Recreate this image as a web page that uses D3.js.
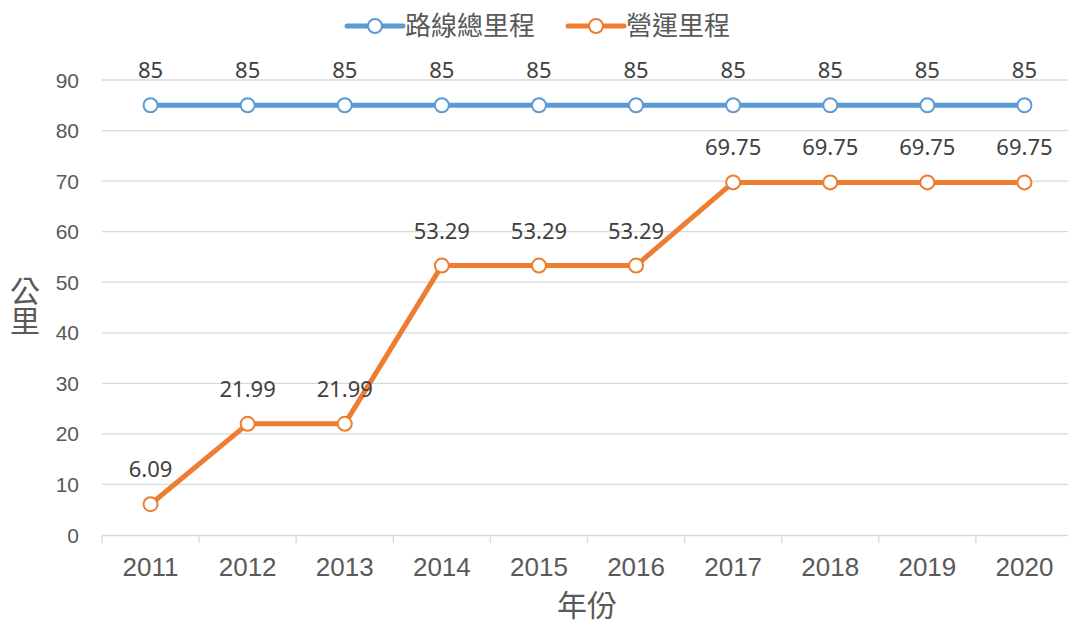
<!DOCTYPE html>
<html>
<head>
<meta charset="utf-8">
<script src="https://cdn.jsdelivr.net/npm/d3@7"></script>
<style>
  body { margin: 0; background: #fff; }
  text { font-family: "Liberation Sans", Arial, sans-serif; }
  .cjk { font-family: "Noto Sans CJK TC", "Noto Sans CJK SC", sans-serif; }
</style>
</head>
<body>
<script>
const width = 1068;
const height = 626;

const years = ["2011", "2012", "2013", "2014", "2015", "2016", "2017", "2018", "2019", "2020"];
const totalKm = [85, 85, 85, 85, 85, 85, 85, 85, 85, 85];
const operKm = [6.09, 21.99, 21.99, 53.29, 53.29, 53.29, 69.75, 69.75, 69.75, 69.75];
const seriesNames = ["路線總里程", "營運里程"];
const colors = ["#5B9BD5", "#ED7D31"];
const yTicks = [0, 10, 20, 30, 40, 50, 60, 70, 80, 90];

const margin = { left: 102, right: -5, top: 80, bottom: 91 };

const svg = d3.select("body")
  .append("svg")
  .attr("width", width)
  .attr("height", height);

var x = d3.scaleBand()
  .domain(years)
  .range([margin.left, width - margin.right]);

var y = d3.scaleLinear()
  .domain([0, 90])
  .range([height - margin.bottom, margin.top]);

// gridlines
svg.append("g")
  .selectAll("line")
  .data(yTicks.slice(1))
  .enter().append("line")
  .attr("x1", margin.left)
  .attr("x2", width)
  .attr("y1", d => y(d))
  .attr("y2", d => y(d))
  .style("stroke", "#d9d9d9")
  .style("stroke-width", 1.3);

// y tick labels
svg.append("g")
  .selectAll("text")
  .data(yTicks)
  .enter().append("text")
  .attr("x", 79)
  .attr("y", d => y(d))
  .attr("dy", "0.36em")
  .attr("text-anchor", "end")
  .style("font-size", "21px")
  .style("fill", "#595959")
  .text(d => d);

// x axis
var xAxis = d3.axisBottom(x).tickSize(0).tickPadding(23);
var gx = svg.append("g")
  .attr("transform", "translate(0," + y(0) + ")")
  .call(xAxis);
gx.select(".domain").style("stroke", "#d9d9d9").style("stroke-width", 1.3);
gx.selectAll("text")
  .style("font-size", "26px")
  .style("fill", "#595959")
  .style("font-family", "Liberation Sans, Arial, sans-serif");

// tick marks between categories
svg.append("g")
  .selectAll("line")
  .data(years)
  .enter().append("line")
  .attr("x1", d => x(d))
  .attr("x2", d => x(d))
  .attr("y1", y(0))
  .attr("y2", y(0) + 8)
  .style("stroke", "#d9d9d9")
  .style("stroke-width", 1.3);

var line = d3.line()
  .x((d, i) => x(years[i]) + x.bandwidth() / 2)
  .y(d => y(d));

[totalKm, operKm].forEach(function(vals, s) {
  svg.append("path")
    .datum(vals)
    .attr("d", line)
    .style("fill", "none")
    .style("stroke", colors[s])
    .style("stroke-width", 5)
    .style("stroke-linejoin", "round");

  svg.append("g")
    .selectAll("circle")
    .data(vals)
    .enter().append("circle")
    .attr("cx", (d, i) => x(years[i]) + x.bandwidth() / 2)
    .attr("cy", d => y(d))
    .attr("r", 7)
    .style("fill", "#fff")
    .style("stroke", colors[s])
    .style("stroke-width", 2);

  svg.append("g")
    .selectAll("text")
    .data(vals)
    .enter().append("text")
    .attr("x", (d, i) => x(years[i]) + x.bandwidth() / 2)
    .attr("y", d => y(d) - 27)
    .attr("text-anchor", "middle")
    .style("font-family", "'Noto Sans', sans-serif")
    .style("font-size", "22px")
    .style("fill", "#404040")
    .text(d => d);
});

// legend
var legendX = [347, 568];
seriesNames.forEach(function(name, s) {
  var g = svg.append("g").attr("transform", "translate(" + legendX[s] + ",26)");
  g.append("line")
    .attr("x1", 0).attr("x2", 56)
    .style("stroke", colors[s])
    .style("stroke-width", 5)
    .style("stroke-linecap", "round");
  g.append("circle")
    .attr("cx", 28).attr("r", 7)
    .style("fill", "#fff")
    .style("stroke", colors[s])
    .style("stroke-width", 2);
  g.append("text")
    .attr("class", "cjk")
    .attr("x", 58)
    .attr("dy", "0.36em")
    .style("font-size", "26px")
    .style("fill", "#595959")
    .text(name);
});

// axis titles
svg.append("text")
  .attr("class", "cjk")
  .attr("x", 587)
  .attr("y", 616)
  .attr("text-anchor", "middle")
  .style("font-size", "30px")
  .style("fill", "#595959")
  .text("年份");

// vertical y title
svg.append("text")
  .attr("class", "cjk")
  .attr("x", 25)
  .attr("y", 306)
  .attr("text-anchor", "middle")
  .style("writing-mode", "vertical-rl")
  .style("font-size", "30px")
  .style("fill", "#595959")
  .text("公里");
</script>
</body>
</html>
